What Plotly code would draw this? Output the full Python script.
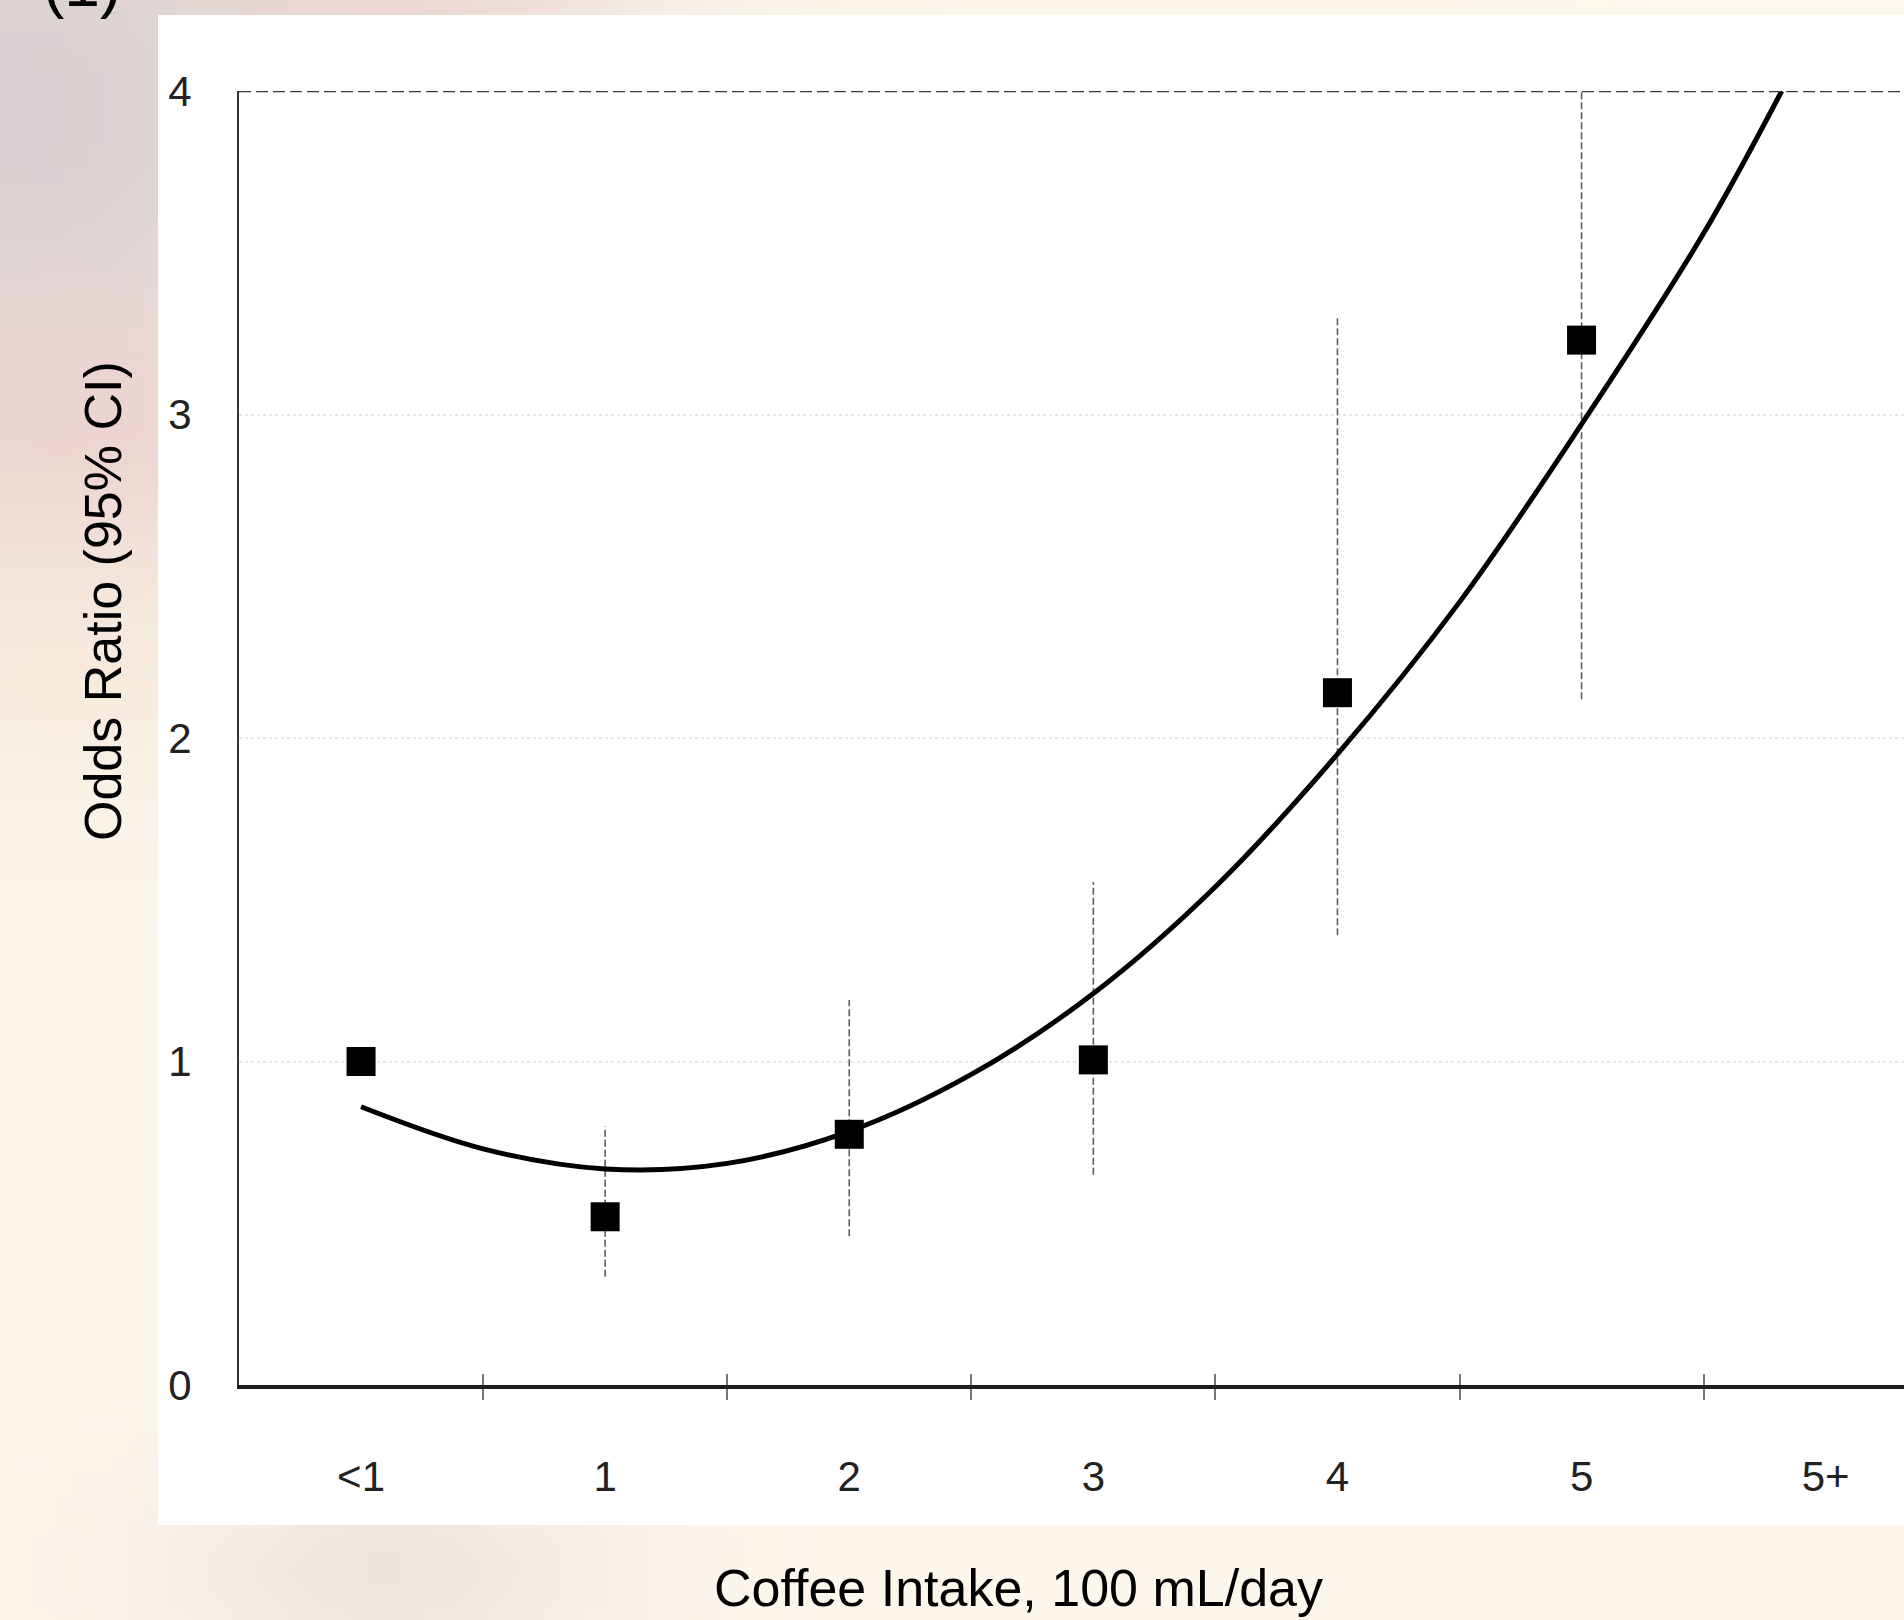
import base64, struct, zlib, math
import plotly.graph_objects as go

# ---------------- data ----------------
categories = ["<1", "1", "2", "3", "4", "5", "5+"]
cat_pos = [0, 1, 2, 3, 4, 5, 6]

point_pos = [0, 1, 2, 3, 4, 5]
odds_ratio = [1.0, 0.52, 0.775, 1.005, 2.14, 3.23]
ci_lower = [None, 0.335, 0.46, 0.65, 1.39, 2.12]
ci_upper = [None, 0.80, 1.19, 1.555, 3.30, 4.0]

curve_x = [0, 0.5, 1, 1.5, 2, 2.5, 3, 3.5, 4, 4.5, 5, 5.5, 5.82]
curve_y = [0.86, 0.73, 0.668, 0.685, 0.784, 0.96, 1.21, 1.54, 1.95, 2.42, 2.97, 3.56, 4.0]

y_ticks = [0, 1, 2, 3, 4]
boundary_ticks = [0.5, 1.5, 2.5, 3.5, 4.5, 5.5]

# ---------------- geometry ----------------
W, H = 1904, 1620
ML, MR, MT, MB = 239, 0, 91, 235
PW, PH = W - ML - MR, H - MT - MB


def px_to_paper(px, py):
    return (px - ML) / PW, (H - MB - py) / PH


# ---------------- background gradient (style only) ----------------
def bg_color(px, py):
    c = [252.0, 246.0, 235.0]
    blobs = [
        (0, 100, 450, 380, (217, 208, 209), 1.0),
        (60, 430, 300, 150, (235, 208, 204), 0.8),
        (60, 650, 250, 140, (247, 230, 215), 0.6),
        (380, 0, 220, 80, (234, 210, 205), 0.7),
        (380, 1580, 220, 110, (239, 227, 221), 0.9),
        (1850, 0, 300, 200, (254, 250, 240), 0.6),
    ]
    for cx, cy, sx, sy, col, s in blobs:
        w = s * math.exp(-((px - cx) / sx) ** 2 - ((py - cy) / sy) ** 2)
        c = [c[i] * (1 - w) + col[i] * w for i in range(3)]
    return [int(round(v)) for v in c]


def make_png(w, h, step):
    rows = []
    for j in range(h):
        row = bytearray([0])
        for i in range(w):
            row.extend(bg_color(i * step, j * step))
        rows.append(bytes(row))
    raw = b"".join(rows)

    def chunk(t, d):
        return struct.pack(">I", len(d)) + t + d + struct.pack(">I", zlib.crc32(t + d) & 0xFFFFFFFF)

    png = b"\x89PNG\r\n\x1a\n"
    png += chunk(b"IHDR", struct.pack(">IIBBBBB", w, h, 8, 2, 0, 0, 0))
    png += chunk(b"IDAT", zlib.compress(raw, 9))
    png += chunk(b"IEND", b"")
    return "data:image/png;base64," + base64.b64encode(png).decode()


STEP = 20
bg_uri = make_png(W // STEP + 1, H // STEP + 1, STEP)

FONT = "Arial, Liberation Sans, Helvetica, sans-serif"

fig = go.Figure()

# error bars (confidence intervals) as thin dashed lines
for xp, lo, hi in zip(point_pos, ci_lower, ci_upper):
    if lo is None:
        continue
    fig.add_trace(go.Scatter(
        x=[xp, xp], y=[lo, hi], mode="lines",
        line=dict(color="#5e5e5e", width=1.6, dash="7px,3px"),
        hoverinfo="skip", showlegend=False,
    ))

# fitted curve
fig.add_trace(go.Scatter(
    x=curve_x, y=curve_y, mode="lines",
    line=dict(color="#000000", width=5, shape="spline", smoothing=1.0),
    showlegend=False,
))

# point estimates
fig.add_trace(go.Scatter(
    x=point_pos, y=odds_ratio, mode="markers",
    marker=dict(symbol="square", size=29, color="#000000", line=dict(width=0)),
    showlegend=False,
))

# white panel of the scanned figure
wx0, wy1 = px_to_paper(158, 15)
wx1, wy0 = px_to_paper(1910, 1525)

fig.update_layout(
    width=W, height=H,
    margin=dict(l=ML, r=MR, t=MT, b=MB, pad=0),
    paper_bgcolor="#fcf6eb",
    plot_bgcolor="rgba(0,0,0,0)",
    showlegend=False,
    images=[dict(
        source=bg_uri, xref="paper", yref="paper",
        x=-ML / PW, y=(H - MB) / PH, sizex=W / PW, sizey=H / PH,
        sizing="stretch", layer="below", xanchor="left", yanchor="top",
    )],
    shapes=[
        dict(type="rect", xref="paper", yref="paper", x0=wx0, x1=wx1, y0=wy0, y1=wy1,
             fillcolor="#ffffff", line=dict(width=0), layer="below"),
        dict(type="line", xref="paper", yref="y", x0=0, x1=1, y0=4, y1=4,
             line=dict(color="#3a3a3a", width=2.5, dash="12px,5px"), layer="above"),
    ],
    xaxis=dict(
        range=[-0.5, -0.5 + PW / 244.1],
        tickmode="array", tickvals=cat_pos, ticktext=categories,
        ticks="", showgrid=False, zeroline=False,
        showline=True, linecolor="#1e1e1e", linewidth=4,
        tickfont=dict(family=FONT, size=42, color="#222222"),
        ticklabelstandoff=52,
        minor=dict(tickmode="array", tickvals=boundary_ticks, ticks="outside",
                   ticklen=11, tickwidth=1.5, tickcolor="#777777", showgrid=False),
    ),
    xaxis2=dict(
        overlaying="x", matches="x", anchor="y", showticklabels=False,
        tickmode="array", tickvals=boundary_ticks, ticks="inside",
        ticklen=11, tickwidth=1.5, tickcolor="#777777",
        showgrid=False, zeroline=False, showline=False,
    ),
    yaxis=dict(
        range=[0, 4],
        tickmode="array", tickvals=y_ticks, ticktext=[str(v) for v in y_ticks],
        ticks="", showgrid=True, gridcolor="#e6e6e6", gridwidth=1.5, griddash="dot",
        zeroline=False, showline=True, linecolor="#333333", linewidth=2,
        tickfont=dict(family=FONT, size=42, color="#222222"),
        ticklabelstandoff=37,
    ),
    annotations=[
        dict(text="Odds Ratio (95% CI)", xref="paper", yref="paper",
             x=px_to_paper(103, 601)[0], y=px_to_paper(103, 601)[1],
             xanchor="center", yanchor="middle", textangle=-90, showarrow=False,
             font=dict(family=FONT, size=52, color="#000000")),
        dict(text="Coffee Intake, 100 mL/day", xref="paper", yref="paper",
             x=px_to_paper(1018, 1588)[0], y=px_to_paper(1018, 1588)[1],
             xanchor="center", yanchor="middle", showarrow=False,
             font=dict(family=FONT, size=52, color="#000000")),
        dict(text="(1)", xref="paper", yref="paper",
             x=px_to_paper(82, -16)[0], y=px_to_paper(82, -16)[1],
             xanchor="center", yanchor="middle", showarrow=False,
             font=dict(family=FONT, size=64, color="#000000")),
    ],
)

# dummy trace so xaxis2 is rendered
fig.add_trace(go.Scatter(x=[0], y=[0], xaxis="x2", yaxis="y", mode="markers",
                         marker=dict(opacity=0), hoverinfo="skip", showlegend=False))

fig.write_html("out.html",
               config={"displayModeBar": False},
               post_script="document.body.style.margin='0';document.body.style.overflow='hidden';")
